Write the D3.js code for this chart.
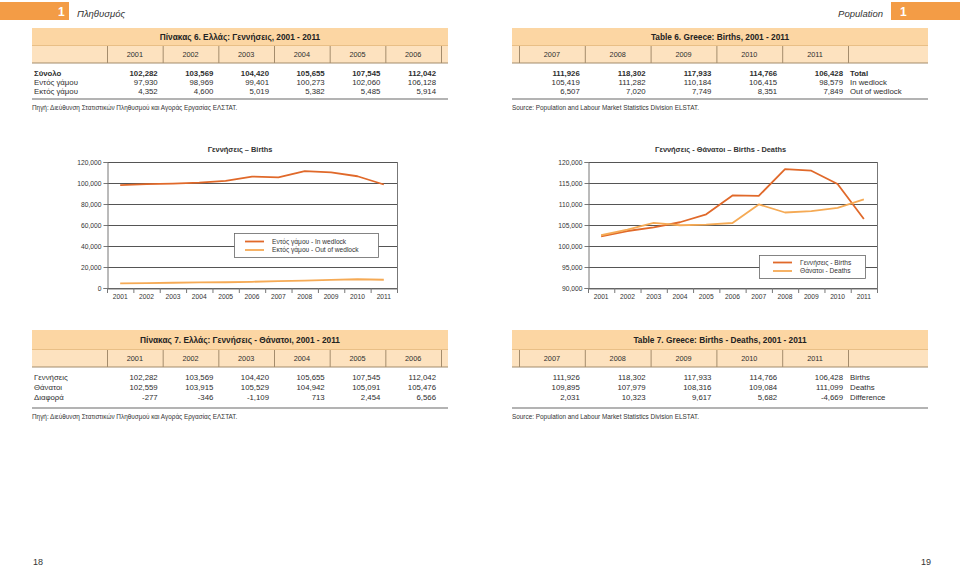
<!DOCTYPE html>
<html><head><meta charset="utf-8">
<script src="https://cdn.jsdelivr.net/npm/d3@7"></script>
<style>
html,body{margin:0;padding:0;background:#fff;}
svg text{font-family:"Liberation Sans",Arial,Helvetica,sans-serif;}
</style></head>
<body><svg id="c" width="960" height="567"></svg>
<script>
// ---------- DATA ----------
const years = [2001,2002,2003,2004,2005,2006,2007,2008,2009,2010,2011];
const yearsLeft = [2001,2002,2003,2004,2005,2006];
const yearsRight = [2007,2008,2009,2010,2011];
const total = [102282,103569,104420,105655,107545,112042,111926,118302,117933,114766,106428];
const inWedlock = [97930,98969,99401,100273,102060,106128,105419,111282,110184,106415,98579];
const outWedlock = [4352,4600,5019,5382,5485,5914,6507,7020,7749,8351,7849];
const births = total;
const deaths = [102559,103915,105529,104942,105091,105476,109895,107979,108316,109084,111099];
const difference = [-277,-346,-1109,713,2454,6566,2031,10323,9617,5682,-4669];

const t6LabelsGr = ["Σύνολο","Εντός γάμου","Εκτός γάμου"];
const t6LabelsEn = ["Total","In wedlock","Out of wedlock"];
const t7LabelsGr = ["Γεννήσεις","Θάνατοι","Διαφορά"];
const t7LabelsEn = ["Births","Deaths","Difference"];
const ticks1 = [0,20000,40000,60000,80000,100000,120000];
const ticks2 = [90000,95000,100000,105000,110000,115000,120000];

const titleT6Gr = "Πίνακας 6. Ελλάς: Γεννήσεις, 2001 - 2011";
const titleT6En = "Table 6. Greece: Births, 2001 - 2011";
const titleT7Gr = "Πίνακας 7. Ελλάς: Γεννήσεις - Θάνατοι, 2001 - 2011";
const titleT7En = "Table 7. Greece: Births - Deaths, 2001 - 2011";
const srcGr = "Πηγή: Διεύθυνση Στατιστικών Πληθυσμού και Αγοράς Εργασίας ΕΛΣΤΑΤ.";
const srcEn = "Source: Population and Labour Market Statistics Division ELSTAT.";

// ---------- STYLE ----------
const ORANGE = "#f39c46";
const BAND1 = "#fcd6a3";
const BAND2 = "#fde2bf";
const DIV = "#a48c6c";
const TXT = "#2e2e2e";
const DARK = "#e0692a";
const LIGHT = "#f5aa55";
const fmt0 = d3.format(",");
const fmt = v => fmt0(v).replace("\u2212","-");

const svg = d3.select("#c");
svg.append("rect").attr("width",960).attr("height",567).attr("fill","#fff");

// ---------- PAGE HEADERS ----------
svg.append("rect").attr("x",0).attr("y",2).attr("width",69).attr("height",18).attr("fill",ORANGE);
svg.append("text").attr("x",58).attr("y",16).attr("fill","#fff").attr("font-size",12).attr("font-weight","bold").text("1");
svg.append("text").attr("x",77).attr("y",17).attr("fill","#333").attr("font-size",9.5).attr("font-style","italic").text("Πληθυσμός");
svg.append("rect").attr("x",891).attr("y",2).attr("width",69).attr("height",18).attr("fill",ORANGE);
svg.append("text").attr("x",900).attr("y",16).attr("fill","#fff").attr("font-size",12).attr("font-weight","bold").text("1");
svg.append("text").attr("x",883).attr("y",17).attr("text-anchor","end").attr("fill","#333").attr("font-size",9.5).attr("font-style","italic").text("Population");
svg.append("text").attr("x",33).attr("y",565).attr("fill","#333").attr("font-size",9).text("18");
svg.append("text").attr("x",921).attr("y",565).attr("fill","#333").attr("font-size",9).text("19");

// ---------- TABLES ----------
function tablePair(L, rowsL, rowsR, labelsGr, labelsEn, titleGr, titleEn, boldFirst){
  const bandTop = L.top, bandMid = L.mid, bandBot = L.bot;
  const rowY = L.rows;
  const ruleY = L.rule;
  const xL = d3.scaleBand().domain(yearsLeft).range([107,441]);
  const xR = d3.scaleBand().domain(yearsRight).range([519,848]);
  [[32,448,titleGr],[512,928,titleEn]].forEach(([x0,x1,tt])=>{
    svg.append("rect").attr("x",x0).attr("y",bandTop).attr("width",x1-x0).attr("height",bandMid-bandTop).attr("fill",BAND1);
    svg.append("rect").attr("x",x0).attr("y",bandMid).attr("width",x1-x0).attr("height",bandBot-bandMid).attr("fill",BAND2);
    svg.append("line").attr("x1",x0).attr("x2",x1).attr("y1",bandMid+0.5).attr("y2",bandMid+0.5).attr("stroke","#e9bf86").attr("stroke-width",1);
    svg.append("line").attr("x1",x0).attr("x2",x1).attr("y1",bandBot).attr("y2",bandBot).attr("stroke",DIV).attr("stroke-width",1.2);
    svg.append("text").attr("x",(x0+x1)/2).attr("y",(bandTop+bandMid)/2+3).attr("text-anchor","middle").attr("font-size",8.3).attr("font-weight","bold").attr("fill","#222").text(tt);
    svg.append("line").attr("x1",x0).attr("x2",x1).attr("y1",ruleY).attr("y2",ruleY).attr("stroke","#9a9a9a").attr("stroke-width",1.4);
  });
  const divsL = xL.domain().map(d=>xL(d)).concat([441]);
  const divsR = [519].concat(xR.domain().map(d=>xR(d)+xR.bandwidth()));
  divsL.concat(divsR).forEach(x=>{
    svg.append("line").attr("x1",x+0.5).attr("x2",x+0.5).attr("y1",bandMid+1).attr("y2",bandBot).attr("stroke",DIV).attr("stroke-width",1);
  });
  const yearY = (bandMid+bandBot)/2+2.6;
  yearsLeft.forEach(y=>svg.append("text").attr("x",xL(y)+xL.bandwidth()/2).attr("y",yearY).attr("text-anchor","middle").attr("font-size",7.3).attr("fill",TXT).text(y));
  yearsRight.forEach(y=>svg.append("text").attr("x",xR(y)+xR.bandwidth()/2).attr("y",yearY).attr("text-anchor","middle").attr("font-size",7.3).attr("fill",TXT).text(y));
  rowsL.forEach((vals,r)=>{
    const b = boldFirst && r===0 ? "bold":"normal";
    svg.append("text").attr("x",34).attr("y",rowY[r]+2.8).attr("font-size",7.8).attr("font-weight",b).attr("fill",TXT).text(labelsGr[r]);
    vals.forEach((v,i)=>svg.append("text").attr("x",xL(yearsLeft[i])+xL.bandwidth()-5).attr("y",rowY[r]+2.8).attr("text-anchor","end").attr("font-size",7.8).attr("font-weight",b).attr("fill",TXT).text(fmt(v)));
  });
  rowsR.forEach((vals,r)=>{
    const b = boldFirst && r===0 ? "bold":"normal";
    vals.forEach((v,i)=>svg.append("text").attr("x",xR(yearsRight[i])+xR.bandwidth()-5).attr("y",rowY[r]+2.8).attr("text-anchor","end").attr("font-size",7.8).attr("font-weight",b).attr("fill",TXT).text(fmt(v)));
    svg.append("text").attr("x",850).attr("y",rowY[r]+2.8).attr("font-size",7.8).attr("font-weight",b).attr("fill",TXT).text(labelsEn[r]);
  });
  svg.append("text").attr("x",32).attr("y",ruleY+11).attr("font-size",6.4).attr("fill","#333").text(srcGr);
  svg.append("text").attr("x",512).attr("y",ruleY+11).attr("font-size",6.4).attr("fill","#333").text(srcEn);
}
tablePair({top:28,mid:45,bot:63,rows:[73,82,91],rule:99},
  [total.slice(0,6), inWedlock.slice(0,6), outWedlock.slice(0,6)],
  [total.slice(6), inWedlock.slice(6), outWedlock.slice(6)],
  t6LabelsGr, t6LabelsEn, titleT6Gr, titleT6En, true);
tablePair({top:330,mid:349,bot:367,rows:[377,387,397],rule:408},
  [births.slice(0,6), deaths.slice(0,6), difference.slice(0,6)],
  [births.slice(6), deaths.slice(6), difference.slice(6)],
  t7LabelsGr, t7LabelsEn, titleT7Gr, titleT7En, false);

// ---------- CHARTS ----------
function chart(x0, x1, domain, tickVals, series, title, legend){
  const top = 162, bot = 288;
  const g = svg.append("g");
  const x = d3.scaleBand().domain(years).range([x0,x1]);
  const y = d3.scaleLinear().domain(domain).range([bot,top]);
  tickVals.forEach(t=>{
    g.append("line").attr("x1",x0).attr("x2",x1).attr("y1",Math.round(y(t))+0.5).attr("y2",Math.round(y(t))+0.5).attr("stroke","#555").attr("stroke-width",1);
  });
  g.append("line").attr("x1",x1+0.5).attr("x2",x1+0.5).attr("y1",top).attr("y2",bot).attr("stroke","#777");
  const ya = g.append("g").attr("transform",`translate(${x0+0.5},0)`)
    .call(d3.axisLeft(y).tickValues(tickVals).tickFormat(fmt).tickSize(4).tickPadding(2));
  ya.select(".domain").attr("stroke","#777");
  ya.selectAll(".tick line").attr("stroke","#777");
  ya.selectAll("text").attr("font-size",6.7).attr("fill","#333").attr("font-family","Liberation Sans, Arial, sans-serif");
  const xa = g.append("g").attr("transform",`translate(0,${bot+0.5})`)
    .call(d3.axisBottom(x).tickSize(0).tickPadding(6));
  xa.select(".domain").attr("stroke","#777");
  xa.selectAll("text").attr("font-size",6.7).attr("fill","#333").attr("font-family","Liberation Sans, Arial, sans-serif");
  years.concat([null]).forEach(yr=>{
    const xx = yr===null ? x1 : x(yr);
    g.append("line").attr("x1",xx+0.5).attr("x2",xx+0.5).attr("y1",bot).attr("y2",bot+5).attr("stroke","#777");
  });
  series.forEach(s=>{
    g.append("path").datum(s.values).attr("fill","none").attr("stroke",s.color).attr("stroke-width",1.8)
      .attr("stroke-linejoin","round")
      .attr("d", d3.line().x((d,i)=>x(years[i])+x.bandwidth()/2).y(d=>y(d)));
  });
  g.append("text").attr("x",(x0+x1)/2-12).attr("y",152).attr("text-anchor","middle").attr("font-size",7.4).attr("font-weight","bold").attr("fill","#333").text(title);
  const L = legend;
  g.append("rect").attr("x",L.x).attr("y",L.y).attr("width",L.w).attr("height",L.h).attr("fill","#fff").attr("stroke","#666").attr("stroke-width",0.8);
  series.forEach((s,i)=>{
    const yy = L.y + L.rowY[i];
    g.append("line").attr("x1",L.lx).attr("x2",L.lx+19).attr("y1",yy).attr("y2",yy).attr("stroke",s.color).attr("stroke-width",1.8);
    g.append("text").attr("x",L.tx).attr("y",yy+2.3).attr("font-size",6.6).attr("fill","#333").text(s.name);
  });
}
chart(107, 397, [0,120000], ticks1,
  [{name:"Εντός γάμου - In wedlock", values:inWedlock, color:DARK},
   {name:"Εκτός γάμου - Out of wedlock", values:outWedlock, color:LIGHT}],
  "Γεννήσεις  – Births",
  {x:234.5,y:233.5,w:144,h:24,rowY:[8,16.5],lx:245,tx:272});
chart(588, 877, [90000,120000], ticks2,
  [{name:"Γεννήσεις - Births", values:births, color:DARK},
   {name:"Θάνατοι - Deaths", values:deaths, color:LIGHT}],
  "Γεννήσεις - Θάνατοι – Births - Deaths",
  {x:759.5,y:255.5,w:106,h:23,rowY:[7,15.5],lx:773,tx:800});
</script></body></html>
